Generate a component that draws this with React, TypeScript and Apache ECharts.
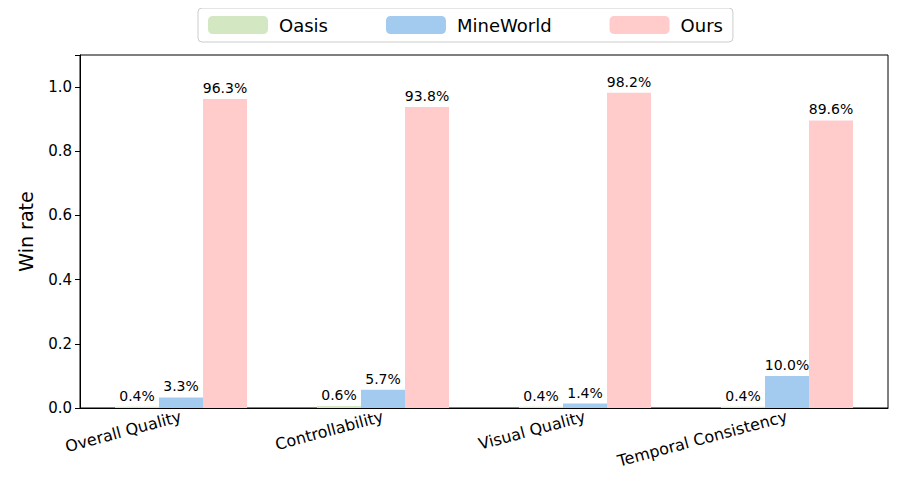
import React, { useEffect, useRef } from "react";
import * as echarts from "echarts";

const categories = ["Overall Quality", "Controllability", "Visual Quality", "Temporal Consistency"];
const oasis = [0.004, 0.006, 0.004, 0.004];
const mineworld = [0.033, 0.057, 0.014, 0.1];
const ours = [0.963, 0.938, 0.982, 0.896];
const yTicks = [0, 0.2, 0.4, 0.6, 0.8, 1.0];

export default function App() {
  const ref = useRef<HTMLDivElement>(null);
  useEffect(() => {
    const chart = echarts.init(ref.current!, null, { renderer: "svg" });
    const font = "DejaVu Sans";
    const mk = (name: string, data: number[], color: string) => ({
      name,
      type: "bar",
      data,
      barWidth: 44,
      barGap: "0%",
      itemStyle: { color },
      label: {
        show: true,
        position: "top",
        formatter: (p: any) => (p.value * 100).toFixed(1) + "%",
        color: "#000",
        fontFamily: font,
        fontSize: 14,
        distance: 4,
      },
    });
    chart.setOption({
      animation: false,
      textStyle: { fontFamily: font },
      legend: {
        top: 0,
        left: 190,
        itemWidth: 60,
        itemHeight: 18,
        itemGap: 58,
        borderColor: "#ccc",
        borderWidth: 1,
        borderRadius: 4,
        padding: [8, 10],
        textStyle: { fontFamily: font, fontSize: 18, color: "#000", padding: [0, 0, 0, 6] },
        data: ["Oasis", "MineWorld", "Ours"],
      },
      grid: { left: 60, right: 4, top: 47, bottom: 76, show: true, borderColor: "#000", borderWidth: 1 },
      xAxis: {
        type: "category",
        data: categories,
        axisLine: { lineStyle: { color: "#000" } },
        axisTick: { alignWithLabel: true, lineStyle: { color: "#000" }, length: 5 },
        axisLabel: { rotate: 15, color: "#000", fontSize: 16, fontFamily: font, margin: 8 },
      },
      yAxis: {
        type: "value",
        min: 0,
        max: 1.1,
        interval: 0.2,
        name: "Win rate",
        nameLocation: "middle",
        nameGap: 45,
        nameTextStyle: { fontSize: 19, color: "#000", fontFamily: font },
        splitLine: { show: false },
        axisLine: { show: true, lineStyle: { color: "#000" } },
        axisTick: { show: true, lineStyle: { color: "#000" }, length: 5 },
        axisLabel: {
          color: "#000",
          fontSize: 15,
          fontFamily: font,
          formatter: (v: number) => (yTicks.some((t) => Math.abs(t - v) < 1e-6) ? v.toFixed(1) : ""),
        },
      },
      series: [mk("Oasis", oasis, "#d3e7c3"), mk("MineWorld", mineworld, "#a3cbf0"), mk("Ours", ours, "#ffcbcb")],
    });
    return () => chart.dispose();
  }, []);
  return <div ref={ref} style={{ width: 884, height: 476 }} />;
}
